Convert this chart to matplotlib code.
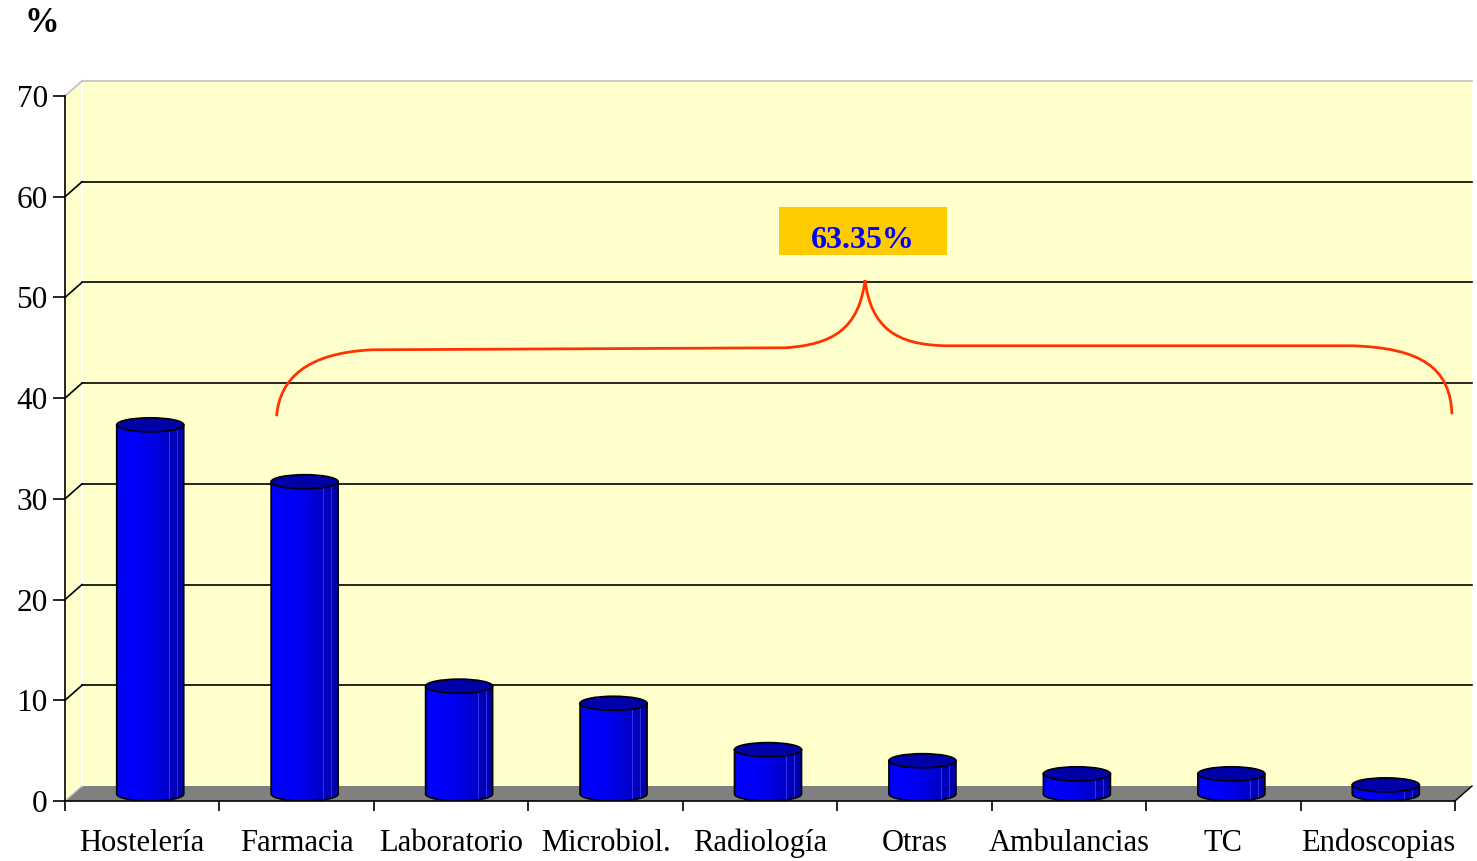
import numpy as np
import matplotlib
matplotlib.use("Agg")
import matplotlib.pyplot as plt
import matplotlib.transforms as mtransforms
from matplotlib.patches import Polygon, Rectangle, Ellipse, PathPatch
from matplotlib.path import Path
from matplotlib.colors import LinearSegmentedColormap

# data
categories = ["Hostelería", "Farmacia", "Laboratorio", "Microbiol.", "Radiología",
              "Otras", "Ambulancias", "TC", "Endoscopias"]
values = [36.65, 31.0, 10.7, 9.0, 4.4, 3.3, 2.0, 2.0, 0.9]
y_ticks = [0, 10, 20, 30, 40, 50, 60, 70]
bracket_label = "63.35%"

# brace over Farmacia..Endoscopias (data coords: start, flat level, tip, end)
brace_left = (1.37, 38.2)
brace_right = (8.98, 38.4)
brace_tip = (5.18, 51.7)
brace_flat = 45.0

plt.rcParams["font.family"] = ["Liberation Serif", "DejaVu Serif"]

W, H = 1477, 861
fig = plt.figure(figsize=(W / 100, H / 100), dpi=100)
ax = fig.add_axes([65 / W, (H - 801) / H, (1455 - 65) / W, (801 - 96) / H])
n = len(categories)
ax.set_xlim(0, n)
ax.set_ylim(0, 70)
ax.patch.set_visible(False)

# pseudo 3D depth offset (pixels)
depth = mtransforms.offset_copy(ax.transData, fig=fig, x=17, y=15, units="dots")
px = mtransforms.IdentityTransform()


def front(x, y):
    return ax.transData.transform((x, y))


def back(x, y):
    return depth.transform((x, y))


yellow = "#FFFFCC"
# back wall
ax.add_patch(Rectangle((0, 0), n, 70, transform=depth, facecolor=yellow,
                       edgecolor="none", clip_on=False, zorder=0))
# left side wall
ax.add_patch(Polygon([front(0, 0), back(0, 0), back(0, 70), front(0, 70)], closed=True,
                     transform=px, facecolor=yellow, edgecolor="none", clip_on=False, zorder=0))
# floor
ax.add_patch(Polygon([front(0, 0), front(n, 0), back(n, 0), back(0, 0)], closed=True,
                     transform=px, facecolor="#808080", edgecolor="none", clip_on=False, zorder=0.5))

# white corner line between side wall and back wall
p0, p1 = back(0, 0), back(0, 70)
ax.plot([p0[0], p1[0]], [p0[1], p1[1]], transform=px, color="white", lw=1.5,
        clip_on=False, zorder=0.6)

# gridlines
for t in y_ticks[1:]:
    col = "#C0C0C0" if t == 70 else "black"
    ax.plot([0, n], [t, t], transform=depth, color=col, lw=1.2, clip_on=False, zorder=1)
    a, b = front(0, t), back(0, t)
    ax.plot([a[0], b[0]], [a[1], b[1]], transform=px, color=col, lw=1.2,
            clip_on=False, zorder=1)
a, b = front(n, 0), back(n, 0)
ax.plot([a[0], b[0]], [a[1], b[1]], transform=px, color="black", lw=1,
        clip_on=False, zorder=1)
a, b = front(0, 0), back(0, 0)
ax.plot([a[0], b[0]], [a[1], b[1]], transform=px, color="#C0C0C0", lw=1,
        clip_on=False, zorder=1)

# cylinder bars
bar_cmap = LinearSegmentedColormap.from_list("cyl", [
    (0.00, "#0000D8"), (0.04, "#0000FF"), (0.40, "#0000F2"), (0.76, "#0000C8"),
    (0.775, "#3A3AF0"), (0.79, "#0000BE"), (0.88, "#0000B8"), (0.89, "#3030E0"),
    (0.905, "#0000B0"), (1.00, "#0000A0")])
grad = np.linspace(0, 1, 300).reshape(1, -1)
bar_w = 0.434
shift = 8 / (1390 / n)
e = 0.7  # half height of the end ellipses, data units

for i, v in enumerate(values):
    cx = i + 0.5 + shift
    x0, x1 = cx - bar_w / 2, cx + bar_w / 2
    th = np.linspace(0, -np.pi, 60)
    arc = np.column_stack([cx + bar_w / 2 * np.cos(th), e + e * np.sin(th)])
    verts = np.vstack([[x0, e], [x0, v + e], [x1, v + e], [x1, e], arc, [x0, e]])
    body = Path(verts)
    clip = PathPatch(body, facecolor="none", edgecolor="none", zorder=3)
    ax.add_patch(clip)
    im = ax.imshow(grad, extent=(x0, x1, 0, v + e), aspect="auto", cmap=bar_cmap,
                   interpolation="nearest", zorder=3)
    im.set_clip_path(clip)
    ax.add_patch(PathPatch(body, facecolor="none", edgecolor="black", lw=1.2, zorder=3.1))
    ax.add_patch(Ellipse((cx, v + e), bar_w, 2 * e, facecolor="#0000A8",
                         edgecolor="black", lw=1.2, zorder=3.2))

ax.set_xlim(0, n)
ax.set_ylim(0, 70)

# brace
lx, ly = brace_left
rx, ry = brace_right
tx, ty = brace_tip
f = brace_flat
verts = [
    (lx, ly), (lx + 0.02, f - 3.0), (lx + 0.2, f - 0.5), (lx + 0.62, f - 0.2),
    (tx - 0.52, f),
    (tx - 0.2, f + 0.3), (tx - 0.04, f + 2.0), (tx, ty),
    (tx + 0.04, f + 2.0), (tx + 0.2, f + 0.3), (tx + 0.52, f + 0.2),
    (rx - 0.65, f + 0.2),
    (rx - 0.2, f), (rx - 0.01, f - 2.0), (rx, ry),
]
codes = [Path.MOVETO, Path.CURVE4, Path.CURVE4, Path.CURVE4,
         Path.LINETO,
         Path.CURVE4, Path.CURVE4, Path.CURVE4,
         Path.CURVE4, Path.CURVE4, Path.CURVE4,
         Path.LINETO,
         Path.CURVE4, Path.CURVE4, Path.CURVE4]
ax.add_patch(PathPatch(Path(verts, codes), facecolor="none", edgecolor="#FF3300",
                       lw=2, clip_on=False, zorder=4))

# label box
ax.add_patch(Rectangle((4.623, 54.2), 1.088, 4.8, facecolor="#FFCC00",
                       edgecolor="none", zorder=4))
ax.text(5.167, 55.7, bracket_label, ha="center", va="center", fontsize=23,
        fontweight="bold", color="#0000FF", zorder=5)

# axes, ticks, labels
for s in ["top", "right"]:
    ax.spines[s].set_visible(False)
for s in ["left", "bottom"]:
    ax.spines[s].set_color("black")
    ax.spines[s].set_linewidth(1.2)
    ax.spines[s].set_zorder(2)

ax.set_yticks(y_ticks)
ax.tick_params(axis="y", length=8.5, width=1.2, pad=4, labelsize=22.5, colors="black")
ax.set_xticks(range(n + 1), labels=[""] * (n + 1))
ax.set_xticks(np.arange(n) + 0.5, labels=categories, minor=True)
ax.tick_params(axis="x", which="major", length=7.5, width=1.2)
ax.tick_params(axis="x", which="minor", length=0, pad=20, labelsize=22)

fig.text(42 / W, 1 - 24 / H, "%", ha="center", va="center", fontsize=25,
         fontweight="bold")

fig.savefig("out.png", dpi=100)
